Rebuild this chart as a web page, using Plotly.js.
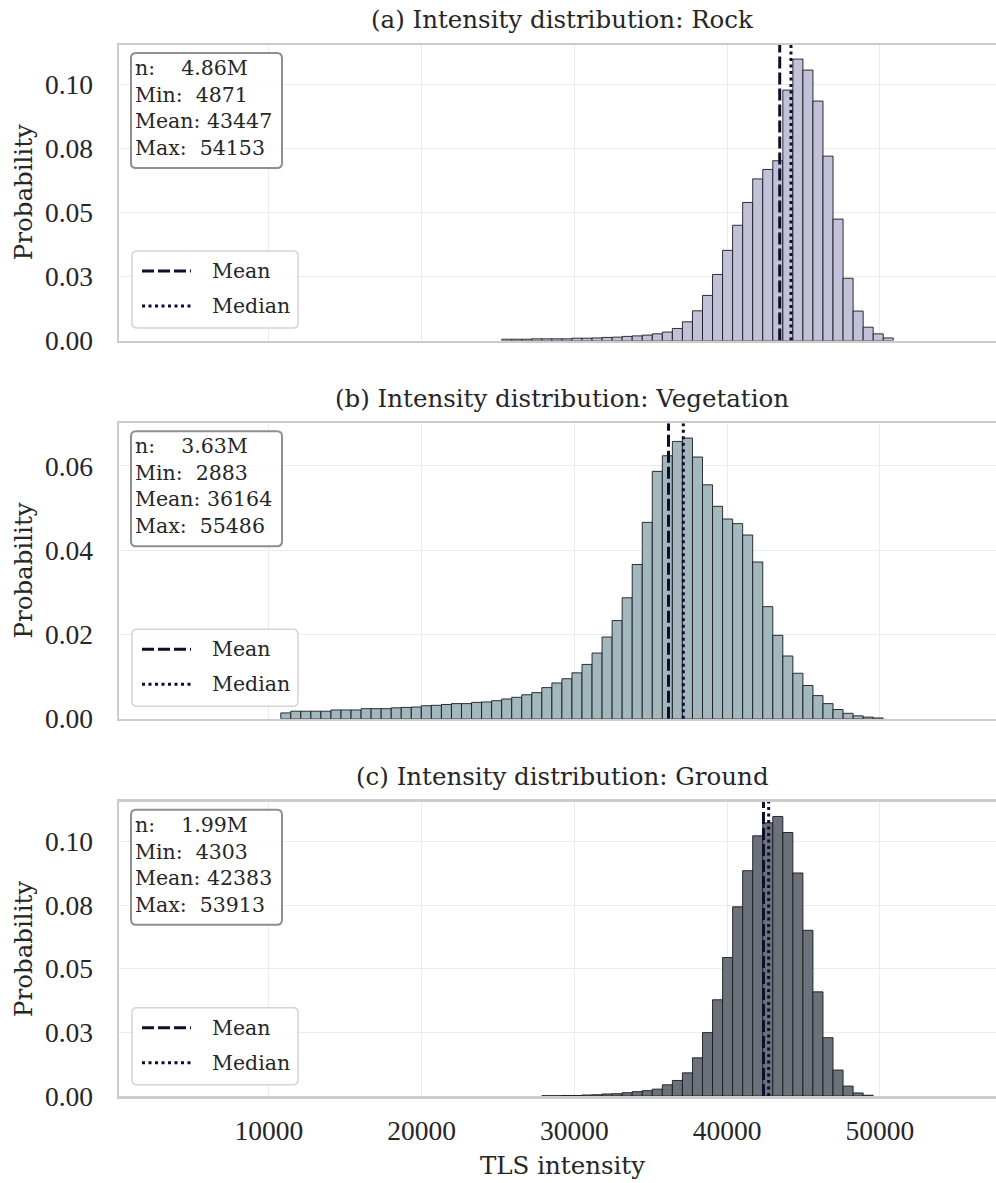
<!DOCTYPE html>
<html>
<head>
<meta charset="utf-8">
<script src="https://cdn.plot.ly/plotly-3.0.1.min.js"></script>
<style>
html,body{margin:0;padding:0;background:#fff;overflow:hidden;}
#chart{width:996px;height:1183px;}
</style>
</head>
<body>
<div id="chart"></div>
<script>
// ---- data ----
const classNames = ["Rock", "Vegetation", "Ground"];
const panelLetters = ["(a)", "(b)", "(c)"];
const nLabels = ["4.86M", "3.63M", "1.99M"];
const minValues = [4871, 2883, 4303];
const meanValues = [43447, 36164, 42383];
const medianValues = [44185, 37132, 42724];
const maxValues = [54153, 55486, 53913];
const legendLabels = ["Mean", "Median"];

// shared histogram bins (80 bins between global min and max)
const binStart = 2883;
const binWidth = 657.54;
// index of first drawn bin for each class
const firstBin = [34, 12, 38];

const rockProb = [0.0005,0.0005,0.0005,0.00065,0.00065,0.00065,0.00065,0.0009,0.0009,0.0010,
  0.0012,0.0013,0.0016,0.0018,0.0021,0.0026,0.0033,0.0047,0.0073,0.0116,
  0.0176,0.0258,0.0352,0.0450,0.0539,0.0631,0.0668,0.0702,0.0978,0.1099,
  0.1056,0.0935,0.0720,0.0474,0.0243,0.0115,0.0052,0.0026,0.0010];
const vegetationProb = [0.0014,0.0018,0.0018,0.0018,0.0018,0.0021,0.0021,0.0021,0.0024,0.0024,
  0.0024,0.0026,0.0027,0.0028,0.0031,0.0032,0.0034,0.0036,0.0036,0.0039,
  0.0040,0.0043,0.0047,0.0051,0.0057,0.0062,0.0074,0.0085,0.0095,0.0109,
  0.0129,0.0156,0.0194,0.0233,0.0287,
  0.0366,0.0466,0.0587,0.0624,0.0658,0.0666,0.0621,0.0555,0.0504,0.0474,
  0.0463,0.0436,0.0372,0.0266,0.0198,0.0149,0.0108,0.0079,0.0055,0.0036,
  0.0022,0.0013,0.0007,0.0004,0.0002];
const groundProb = [0.0001,0.0001,0.0002,0.0002,0.0004,0.0005,0.0008,0.0009,0.0013,0.0017,
  0.0021,0.0027,0.0044,0.0061,0.0091,0.0150,0.0249,0.0378,0.0544,0.0743,
  0.0885,0.1022,0.1073,0.1098,0.1035,0.0876,0.0651,0.0409,0.0229,0.0102,
  0.0039,0.0012,0.0003];

const xTickVals = [10000, 20000, 30000, 40000, 50000];
const yTickValsA = [0, 0.025, 0.05, 0.075, 0.1];
const yTickTextA = ["0.00", "0.03", "0.05", "0.08", "0.10"];
const yTickValsB = [0, 0.02, 0.04, 0.06];
const yTickTextB = ["0.00", "0.02", "0.04", "0.06"];
const yTops = [0.1154, 0.0701, 0.1156];

// ---- styling ----
const FONT = "DejaVu Serif, serif";
const NUMFONT = "Liberation Serif, serif";
const TXT = "#262626";
const barColors = ["#c2c1d7", "#a2b8bd", "#6c7279"];
const lineColor = "#0d0d30";
const meanDash = "12px,4px";
const medianDash = "3px,3.5px";
const probs = [rockProb, vegetationProb, groundProb];
const yTickVals = [yTickValsA, yTickValsB, yTickValsA];
const yTickText = [yTickTextA, yTickTextB, yTickTextA];

// geometry (pixels) — plot area spans x 119..996, y 45..1096
const W = 996, H = 1183, ML = 119, MT = 45, MB = 87;
const PW = W - ML, PH = H - MT - MB;
const px2fx = p => (p - ML) / PW;
const px2fy = p => (H - MB - p) / PH;
const panelTopPx = [45, 423.3, 801.7];
const panelH = 295.5;

const traces = [];
const layout = {
  width: W, height: H,
  margin: {l: ML, r: 0, t: MT, b: MB},
  paper_bgcolor: "#ffffff", plot_bgcolor: "#ffffff",
  font: {family: FONT, color: TXT, size: 20},
  bargap: 0,
  annotations: [],
  shapes: [],
  showlegend: false
};

function roundedBox(x0, y0, x1, y1, r, stroke, sw, fill) {
  const X = px2fx, Y = px2fy;
  const p = "M" + X(x0 + r) + "," + Y(y0) +
    " L" + X(x1 - r) + "," + Y(y0) +
    " Q" + X(x1) + "," + Y(y0) + " " + X(x1) + "," + Y(y0 + r) +
    " L" + X(x1) + "," + Y(y1 - r) +
    " Q" + X(x1) + "," + Y(y1) + " " + X(x1 - r) + "," + Y(y1) +
    " L" + X(x0 + r) + "," + Y(y1) +
    " Q" + X(x0) + "," + Y(y1) + " " + X(x0) + "," + Y(y1 - r) +
    " L" + X(x0) + "," + Y(y0 + r) +
    " Q" + X(x0) + "," + Y(y0) + " " + X(x0 + r) + "," + Y(y0) + " Z";
  return {type: "path", xref: "paper", yref: "paper", path: p, layer: "above",
          line: {color: stroke, width: sw}, fillcolor: fill};
}

for (let i = 0; i < 3; i++) {
  const sx = i === 0 ? "" : String(i + 1);
  const xa = "x" + sx, ya = "y" + sx;
  const top = panelTopPx[i], bot = top + panelH;

  traces.push({
    type: "bar",
    x0: binStart + binWidth * (firstBin[i] + 0.5),
    dx: binWidth,
    y: probs[i],
    width: binWidth,
    xaxis: xa, yaxis: ya,
    marker: {color: barColors[i], line: {color: "rgba(25,25,35,0.9)", width: 1}},
    hoverinfo: "skip"
  });
  traces.push({
    type: "scatter", mode: "lines",
    x: [meanValues[i], meanValues[i]], y: [0, yTops[i]],
    xaxis: xa, yaxis: ya,
    line: {color: lineColor, width: 3, dash: meanDash},
    name: legendLabels[0], cliponaxis: false, hoverinfo: "skip"
  });
  traces.push({
    type: "scatter", mode: "lines",
    x: [medianValues[i], medianValues[i]], y: [0, yTops[i]],
    xaxis: xa, yaxis: ya,
    line: {color: lineColor, width: 3, dash: medianDash},
    name: legendLabels[1], cliponaxis: false, hoverinfo: "skip"
  });

  layout["xaxis" + sx] = {
    domain: [0, 1], anchor: ya,
    range: [180, 57610],
    tickvals: xTickVals,
    ticktext: xTickVals.map(String),
    showticklabels: i === 2,
    ticks: "",
    ticklabelstandoff: 8,
    tickfont: {family: NUMFONT, size: 27.5, color: TXT},
    showgrid: true, gridcolor: "#ebebeb", gridwidth: 1,
    zeroline: false,
    showline: true, mirror: true, linecolor: "#cccccc", linewidth: 2.5,
    fixedrange: true
  };
  layout["yaxis" + sx] = {
    domain: [px2fy(bot), px2fy(top)], anchor: xa,
    range: [0, yTops[i]],
    tickvals: yTickVals[i], ticktext: yTickText[i],
    ticks: "",
    ticklabelstandoff: 18,
    tickfont: {family: NUMFONT, size: 27.5, color: TXT},
    showgrid: true, gridcolor: "#ebebeb", gridwidth: 1,
    zeroline: false,
    showline: true, mirror: false, linecolor: "#cccccc", linewidth: 2.5,
    fixedrange: true
  };

  // legend: rounded frame, line handles and labels
  const lgTop = top + 206, lgBot = top + 283;
  layout.shapes.push(roundedBox(132, lgTop, 298, lgBot, 5, "#d4d4d4", 1.5, "rgba(255,255,255,0.85)"));
  const rows = [top + 226, top + 261];
  const dashes = [meanDash, medianDash];
  for (let k = 0; k < 2; k++) {
    layout.shapes.push({
      type: "line", xref: "paper", yref: "paper", layer: "above",
      x0: px2fx(142), x1: px2fx(191), y0: px2fy(rows[k]), y1: px2fy(rows[k]),
      line: {color: lineColor, width: 3, dash: dashes[k]}
    });
    layout.annotations.push({
      text: legendLabels[k],
      xref: "paper", yref: "paper", x: px2fx(210), y: px2fy(rows[k]),
      xanchor: "left", yanchor: "middle", showarrow: false,
      font: {family: FONT, size: 20.5, color: TXT}
    });
  }

  // stats box (rounded) and text
  layout.shapes.push(roundedBox(131, top + 8, 282, top + 123, 5, "#8f8f8f", 2, "rgba(255,255,255,0.85)"));
  const nb = "\u00a0";
  layout.annotations.push({
    text: "n:" + nb.repeat(4) + nLabels[i] + "<br>Min:" + nb.repeat(2) + minValues[i] +
          "<br>Mean:" + nb + meanValues[i] + "<br>Max:" + nb.repeat(2) + maxValues[i],
    xref: "paper", yref: "paper", x: px2fx(134), y: px2fy(top + 10),
    xanchor: "left", yanchor: "top", align: "left", showarrow: false,
    font: {family: FONT, size: 20.5, color: TXT},
    borderwidth: 0, borderpad: 1
  });

  // subplot title
  layout.annotations.push({
    text: panelLetters[i] + " Intensity distribution: " + classNames[i],
    xref: "paper", yref: "paper", x: px2fx(562), y: px2fy(top - 25),
    xanchor: "center", yanchor: "middle", showarrow: false,
    font: {family: FONT, size: 24.5, color: TXT}
  });
  // y axis title
  layout.annotations.push({
    text: "Probability",
    xref: "paper", yref: "paper", x: px2fx(23.5), y: px2fy(top + panelH / 2),
    xanchor: "center", yanchor: "middle", textangle: -90, showarrow: false,
    font: {family: FONT, size: 24.5, color: TXT}
  });
}

// x axis title
layout.annotations.push({
  text: "TLS intensity",
  xref: "paper", yref: "paper", x: px2fx(562), y: px2fy(1165),
  xanchor: "center", yanchor: "middle", showarrow: false,
  font: {family: FONT, size: 24.5, color: TXT}
});

Plotly.newPlot("chart", traces, layout, {displayModeBar: false, staticPlot: true});
</script>
</body>
</html>
